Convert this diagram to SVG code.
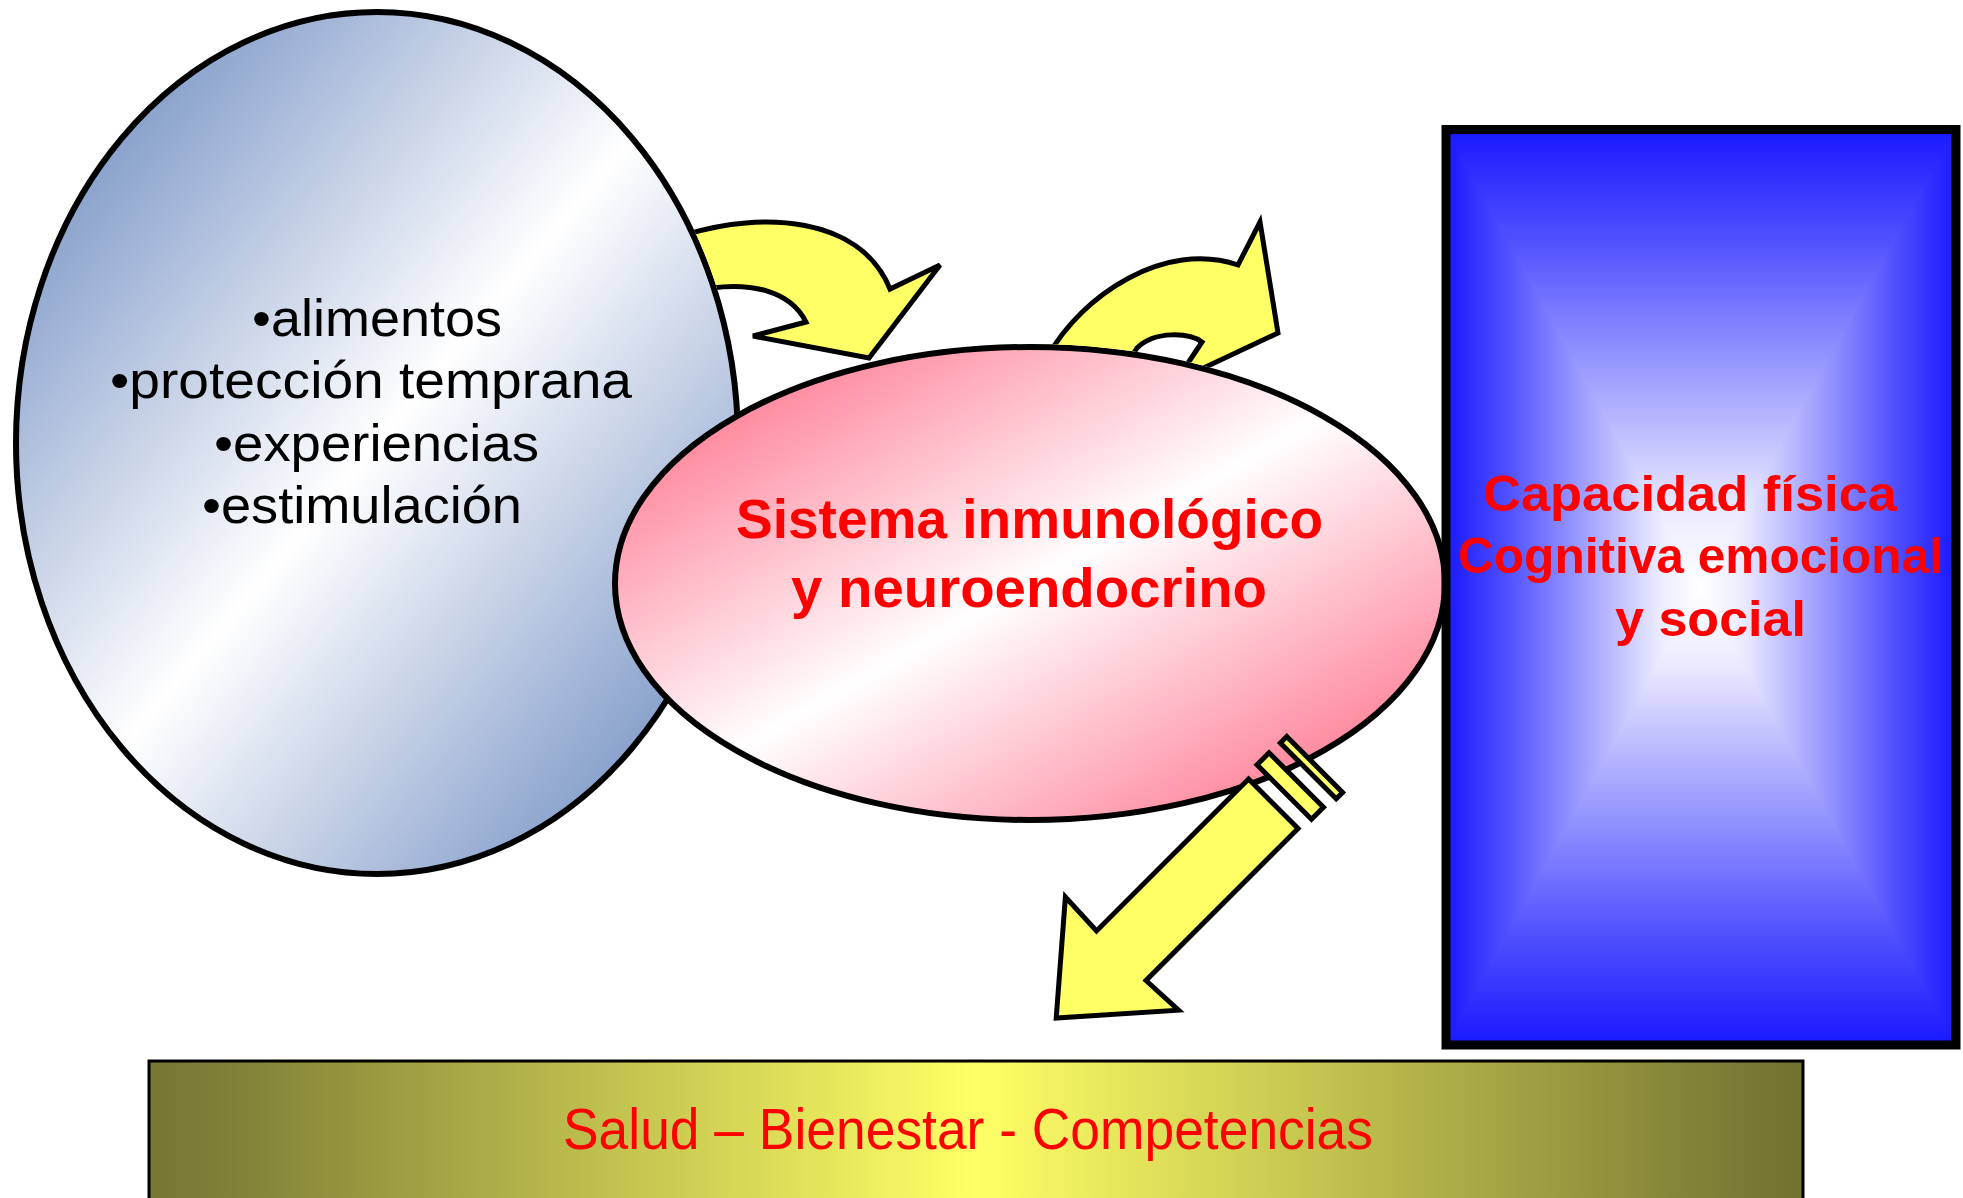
<svg xmlns="http://www.w3.org/2000/svg" width="1963" height="1198" viewBox="0 0 1963 1198">
<style>
.arrow{fill:#ffff66;stroke:#000;stroke-width:5;stroke-linejoin:miter}
.blk{font-family:"Liberation Sans",Arial,sans-serif;fill:#000;font-size:52px}
.red{font-family:"Liberation Sans",Arial,sans-serif;fill:#ff0000}
.b{font-weight:bold}
</style>
<defs>
<linearGradient id="gLeft" x1="0" y1="0" x2="1" y2="1">
<stop offset="0" stop-color="#5a7cb8"/><stop offset="0.5" stop-color="#ffffff"/><stop offset="1" stop-color="#5a7cb8"/>
</linearGradient>
<linearGradient id="gPink" x1="0" y1="0" x2="1" y2="1">
<stop offset="0" stop-color="#ff5c7a"/><stop offset="0.5" stop-color="#ffffff"/><stop offset="1" stop-color="#ff5c7a"/>
</linearGradient>
<linearGradient id="gBlueH" gradientUnits="userSpaceOnUse" x1="1446" y1="0" x2="1956" y2="0">
<stop offset="0" stop-color="#1818ff"/><stop offset="0.12" stop-color="#5050ff"/><stop offset="0.28" stop-color="#a4a4ff"/><stop offset="0.42" stop-color="#ececff"/><stop offset="0.5" stop-color="#ffffff"/><stop offset="0.58" stop-color="#ececff"/><stop offset="0.72" stop-color="#a4a4ff"/><stop offset="0.88" stop-color="#5050ff"/><stop offset="1" stop-color="#1818ff"/>
</linearGradient>
<linearGradient id="gBlueV" gradientUnits="userSpaceOnUse" x1="0" y1="129.5" x2="0" y2="1045">
<stop offset="0" stop-color="#1818ff"/><stop offset="0.12" stop-color="#5050ff"/><stop offset="0.28" stop-color="#a4a4ff"/><stop offset="0.42" stop-color="#ececff"/><stop offset="0.5" stop-color="#ffffff"/><stop offset="0.58" stop-color="#ececff"/><stop offset="0.72" stop-color="#a4a4ff"/><stop offset="0.88" stop-color="#5050ff"/><stop offset="1" stop-color="#1818ff"/>
</linearGradient>
<linearGradient id="gBar" gradientUnits="userSpaceOnUse" x1="149" y1="0" x2="1803" y2="0">
<stop offset="0" stop-color="#777733"/><stop offset="0.04" stop-color="#7e7e37"/><stop offset="0.5" stop-color="#ffff66"/><stop offset="0.96" stop-color="#7b7b35"/><stop offset="1" stop-color="#727230"/>
</linearGradient>
<clipPath id="outsideEllipses">
<path clip-rule="evenodd" d="M0,0 H1963 V1198 H0 Z M13,443 a364,434 0 1,0 728,0 a364,434 0 1,0 -728,0 Z M612,583.5 a418,239.5 0 1,0 836,0 a418,239.5 0 1,0 -836,0 Z"/>
</clipPath>
</defs>

<g id="node-factores">
<ellipse cx="377" cy="443" rx="361" ry="431" fill="url(#gLeft)" stroke="#000" stroke-width="6"/>
<text class="blk" x="252" y="336" textLength="250" lengthAdjust="spacingAndGlyphs">•alimentos</text>
<text class="blk" x="110" y="398" textLength="522" lengthAdjust="spacingAndGlyphs">•protección temprana</text>
<text class="blk" x="214" y="461" textLength="325" lengthAdjust="spacingAndGlyphs">•experiencias</text>
<text class="blk" x="202" y="523" textLength="320" lengthAdjust="spacingAndGlyphs">•estimulación</text>
</g>

<g id="node-sistema">
<ellipse cx="1030" cy="583.5" rx="415" ry="236.5" fill="url(#gPink)" stroke="#000" stroke-width="6"/>
<text class="red b" x="736" y="538" font-size="56" textLength="587" lengthAdjust="spacingAndGlyphs">Sistema inmunológico</text>
<text class="red b" x="791" y="607" font-size="56" textLength="476" lengthAdjust="spacingAndGlyphs">y neuroendocrino</text>
</g>

<g id="connectors">
<g clip-path="url(#outsideEllipses)">
<path id="arrow-1" class="arrow" d="M688,234 C760,212 860,215 890,289 L940,265 L869,358 L753,336 L806,322 C790,290 750,283 712,288 Z"/>
<path id="arrow-2" class="arrow" d="M1048,356 C1082,295 1165,240 1238,265 L1260,222 L1278,333 L1176,381 L1202,342 C1190,333 1155,330 1137,348 L1128,362 Z"/>
</g>
<g id="arrow-3" transform="translate(1274,803) rotate(135)">
<polygon class="arrow" points="1,-35 216,-35 214,-79 306,2 214,81 216,35 1,35"/>
<rect class="arrow" x="-32" y="-38" width="17" height="77"/>
<rect class="arrow" x="-56" y="-41" width="9" height="79"/>
</g>
</g>

<g id="node-capacidad">
<rect x="1446" y="129.5" width="510" height="915.5" fill="url(#gBlueH)"/>
<polygon points="1446,129.5 1956,129.5 1701,587.25" fill="url(#gBlueV)"/>
<polygon points="1446,1045 1956,1045 1701,587.25" fill="url(#gBlueV)"/>
<rect x="1446" y="129.5" width="510" height="915.5" fill="none" stroke="#000" stroke-width="9"/>
<text class="red b" x="1483" y="511" font-size="50" textLength="414" lengthAdjust="spacingAndGlyphs">Capacidad física</text>
<text class="red b" x="1458" y="573" font-size="50" textLength="485" lengthAdjust="spacingAndGlyphs">Cognitiva emocional</text>
<text class="red b" x="1615" y="636" font-size="50" textLength="191" lengthAdjust="spacingAndGlyphs">y social</text>
</g>

<g id="node-salud">
<rect x="149" y="1061" width="1654" height="160" fill="url(#gBar)" stroke="#000" stroke-width="3"/>
<text class="red" x="563" y="1149" font-size="58" textLength="810" lengthAdjust="spacingAndGlyphs">Salud – Bienestar - Competencias</text>
</g>
</svg>
